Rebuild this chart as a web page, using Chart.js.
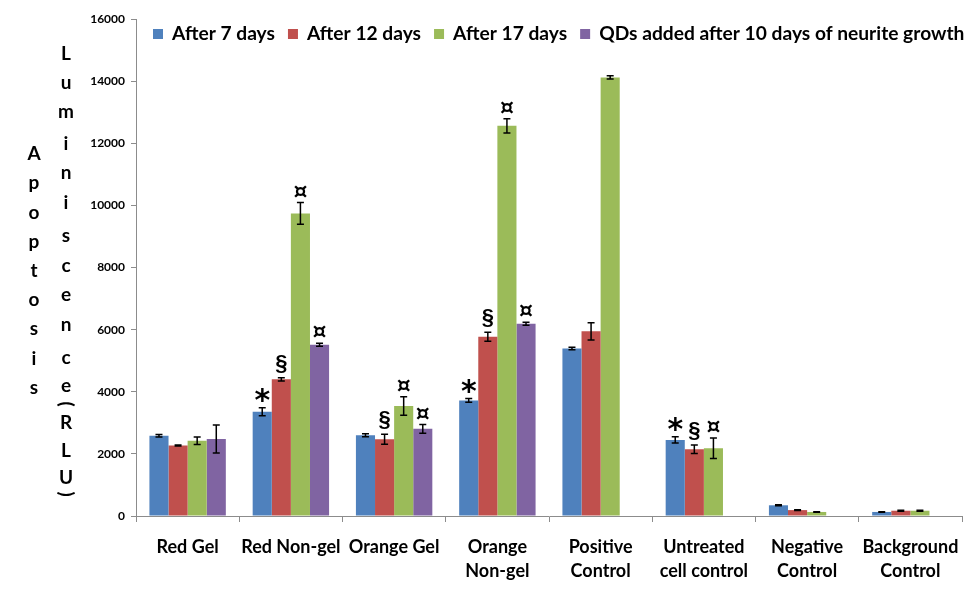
<!DOCTYPE html>
<html>
<head>
<meta charset="utf-8">
<script src="https://cdn.jsdelivr.net/npm/chart.js@4.4.0/dist/chart.umd.min.js"></script>
<style>
  html, body { margin: 0; padding: 0; background: #ffffff; }
  #wrap { position: relative; width: 978px; height: 600px; }
</style>
</head>
<body>
<div id="wrap"><canvas id="c" width="978" height="600"></canvas></div>
<script>
// ---- Data ----
const categories = ['Red Gel', 'Red Non-gel', 'Orange Gel', ['Orange', 'Non-gel'], ['Positive', 'Control'], ['Untreated', 'cell control'], ['Negative', 'Control'], ['Background', 'Control']];
const seriesNames = ['After 7 days', 'After 12 days', 'After 17 days', 'QDs added after 10 days of neurite growth'];

const after7  = [2580, 3355, 2600, 3720, 5390, 2450, 345, 130];
const after12 = [2270, 4400, 2470, 5770, 5945, 2150, 190, 170];
const after17 = [2420, 9740, 3540, 12560, 14120, 2180, 130, 170];
const qdsAdded = [2480, 5515, 2805, 6190, null, null, null, null];

const err7  = [40, 130, 50, 60, 40, 100, 15, 10];
const err12 = [15, 50, 160, 145, 280, 135, 15, 15];
const err17 = [120, 350, 300, 230, 50, 330, 10, 15];
const errQ  = [450, 50, 140, 50, null, null, null, null];

const mark7  = ['', '*', '', '*', '', '*', '', ''];
const mark12 = ['', '§', '§', '§', '', '§', '', ''];
const mark17 = ['', '¤', '¤', '¤', '', '¤', '', ''];
const markQ  = ['', '¤', '¤', '¤', '', '', '', ''];

const yTicks = [0, 2000, 4000, 6000, 8000, 10000, 12000, 14000, 16000];
const yTitle1 = 'Apoptosis';
const yTitle2 = ['L','u','m','i','n','i','s','c','e','n','c','e','(','R','L','U',')'];

const colors = ['#4F81BD', '#C0504D', '#9BBB59', '#8064A2'];
const FONT = 'Lato';
const AXIS = '#8c8c8c';

const values = [after7, after12, after17, qdsAdded];
const errs = [err7, err12, err17, errQ];
const marks = [mark7, mark12, mark17, markQ];

const errorBars = {
  id: 'errorBars',
  afterDatasetsDraw(chart) {
    const ctx = chart.ctx;
    const y = chart.scales.y;
    ctx.save();
    chart.data.datasets.forEach((ds, di) => {
      const meta = chart.getDatasetMeta(di);
      meta.data.forEach((bar, i) => {
        const v = values[di][i];
        const e = errs[di][i];
        if (v == null) return;
        const yt = y.getPixelForValue(v + e);
        const yb = y.getPixelForValue(v - e);
        const x = bar.x;
        ctx.strokeStyle = '#000';
        ctx.lineWidth = 1.5;
        ctx.beginPath();
        ctx.moveTo(x, yt); ctx.lineTo(x, yb);
        ctx.moveTo(x - 3.5, yt); ctx.lineTo(x + 3.5, yt);
        ctx.moveTo(x - 3.5, yb); ctx.lineTo(x + 3.5, yb);
        ctx.stroke();
        const m = marks[di][i];
        if (m) {
          let f;
          if (m === '*') f = 'bold 30px "DejaVu Sans"';
          else if (m === '§') f = 'bold 22px "Liberation Sans"';
          else f = 'bold 22px "DejaVu Sans"';
          ctx.font = f;
          ctx.fillStyle = '#000';
          ctx.textAlign = 'center';
          ctx.textBaseline = 'alphabetic';
          const mt = ctx.measureText(m);
          const desc = mt.actualBoundingBoxDescent;
          ctx.fillText(m, x, yt - 5 - desc);
        }
      });
    });
    ctx.restore();
  }
};

const legendPlugin = {
  id: 'legendPlugin',
  afterDraw(chart) {
    const ctx = chart.ctx;
    ctx.save();
    ctx.font = 'bold 19.2px ' + FONT;
    ctx.textBaseline = 'middle';
    ctx.textAlign = 'left';
    let x = 153;
    const yc = 34;
    chart.data.datasets.forEach((ds, i) => {
      ctx.fillStyle = ds.backgroundColor;
      ctx.fillRect(x, yc - 5, 10, 10);
      ctx.fillStyle = '#000';
      ctx.fillText(ds.label, x + 19, yc);
      x += 19 + ctx.measureText(ds.label).width + 13;
    });
    ctx.restore();
  }
};

const yTitlePlugin = {
  id: 'yTitlePlugin',
  afterDraw(chart) {
    const ctx = chart.ctx;
    ctx.save();
    ctx.fillStyle = '#000';
    ctx.font = 'bold 19px ' + FONT;
    ctx.textAlign = 'center';
    ctx.textBaseline = 'middle';
    const a = yTitle1.split('');
    a.forEach((ch, i) => { ctx.fillText(ch, 34, 154 + i * 29.2); });
    const ys = [54, 83, 112, 144, 173, 203, 236, 266, 295, 325, 358, 386, 404, 423, 451, 478, 494];
    yTitle2.forEach((ch, i) => {
      if (ch === '(' || ch === ')') {
        ctx.save();
        ctx.translate(66, ys[i]);
        ctx.rotate(Math.PI / 2);
        ctx.fillText(ch, 0, 0);
        ctx.restore();
      } else {
        ctx.fillText(ch, 66, ys[i]);
      }
    });
    ctx.restore();
  }
};

new Chart(document.getElementById('c'), {
  type: 'bar',
  data: {
    labels: categories,
    datasets: seriesNames.map((n, i) => ({
      label: n,
      data: values[i],
      backgroundColor: colors[i],
      borderWidth: 0,
      barPercentage: 1.0,
      categoryPercentage: 0.74
    }))
  },
  plugins: [errorBars, legendPlugin, yTitlePlugin],
  options: {
    responsive: false,
    animation: false,
    devicePixelRatio: 1,
    layout: { padding: { left: 0, right: 16, top: 19, bottom: 0 } },
    plugins: {
      tooltip: { enabled: false },
      legend: { display: false }
    },
    scales: {
      x: {
        afterFit(s) { s.height = 84; },
        grid: { display: true, offset: true, drawOnChartArea: false, drawTicks: true, tickLength: 6, color: AXIS },
        border: { display: true, color: AXIS, width: 1 },
        ticks: { color: '#000', padding: 13, maxRotation: 0, autoSkip: false, font: { family: FONT, size: 18, weight: 'bold', lineHeight: 1.33 } }
      },
      y: {
        min: 0, max: 16000,
        afterFit(s) { s.width = 136; },
        afterBuildTicks(s) { s.ticks = yTicks.map(v => ({ value: v })); },
        grid: { display: true, drawOnChartArea: false, drawTicks: true, tickLength: 5, color: AXIS },
        border: { display: true, color: AXIS, width: 1 },
        ticks: { color: '#000', padding: 6, callback: v => String(v), font: { family: FONT, size: 12, weight: 'bold' } }
      }
    }
  }
});
</script>
</body>
</html>
